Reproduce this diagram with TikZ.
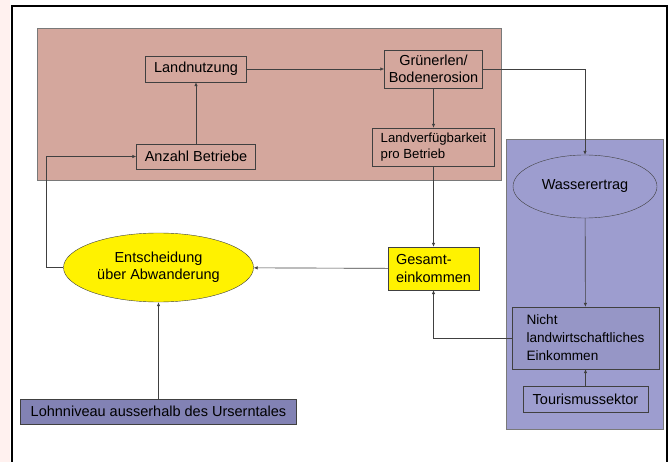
\documentclass[tikz,border=0pt]{standalone}
\usepackage{fontspec}
\setmainfont{Liberation Sans}
\usetikzlibrary{
  arrows.meta,
  shapes.geometric
}
\definecolor{landred}{HTML}{D4A79D}
\definecolor{waterblue}{HTML}{9D9DCF}
\definecolor{incomeblue}{HTML}{9696C6}
\definecolor{wageblue}{HTML}{8282B4}
\definecolor{edgegray}{HTML}{404040}
\definecolor{stripepink}{HTML}{FFF1EF}
\tikzset{
  factor/.style={
    draw=edgegray,
    inner sep=0pt,
    font=\fontsize{14.5}{17.5}\selectfont
  },
  decision/.style={
    factor,
    ellipse,
    fill=yellow
  },
  region/.style={
    draw=edgegray!70,
    line width=0.6pt
  },
  link/.style={
    draw=edgegray,
    line width=0.65pt,
    -{Latex[length=4pt,width=3.5pt]}
  }
}

\begin{document}
\begin{tikzpicture}[x=1pt,y=-1pt]
  \useasboundingbox (0,0) rectangle (671,462);
  \fill[stripepink] (0,0) rectangle (10,462);
  \draw[line width=1.4pt] (12,462) -- (12,6) -- (667,6) -- (667,462);
  % Hintergrundflaechen
  \path[region,fill=landred] (37,28) rectangle (501,180);
  \path[region,fill=waterblue] (506,139) rectangle (663,429);

  \node[factor,minimum width=101,minimum height=26] (nutzung) at (196,69) {Landnutzung};
  \node[factor,minimum width=119,minimum height=25] (betriebe) at (196,156.5) {Anzahl Betriebe};
  \node[factor,minimum width=98,minimum height=38,align=center] (erlen) at (433.5,69) {Grünerlen/\\Bodenerosion};
  \node[factor,minimum width=122,minimum height=38,align=left,font=\fontsize{13.2}{16.5}\selectfont] (landpro) at (433.5,147) {Landverfügbarkeit\\pro Betrieb};
  \node[factor,fill=yellow,minimum width=91,minimum height=43,align=left] (gesamt) at (433.5,268.5) {Gesamt-\\einkommen};
  \node[decision,minimum width=190,minimum height=69,align=center] (abwand) at (158.5,267.5) {Entscheidung\\über Abwanderung};
  \node[factor,fill=wageblue,minimum width=276,minimum height=25] (lohn) at (158.5,411.5) {Lohnniveau ausserhalb des Urserntales};
  \node[factor,ellipse,fill=waterblue,minimum width=144,minimum height=63] (wasser) at (585,186.5) {Wasserertrag};
  \node[factor,fill=incomeblue,minimum width=147,minimum height=62,align=left,font=\fontsize{13.6}{18}\selectfont] (nichtlw) at (585.5,338) {Nicht\\landwirtschaftliches\\Einkommen};
  \node[factor,fill=waterblue,minimum width=125,minimum height=26] (tourismus) at (585.5,399) {Tourismussektor};

  \draw[link] (betriebe) -- (nutzung);
  \draw[link] (nutzung) -- (erlen);
  \draw[link] (erlen) -- (landpro);
  \draw[link] (erlen.east) -| (wasser.north);
  \draw[link] (landpro) -- (gesamt);
  \draw[link] (gesamt) -- (abwand);
  \draw[link] (abwand.west) -- ++(-17,0) |- (betriebe.west);
  \draw[link] (lohn) -- (abwand);
  \draw[link] (wasser) -- (nichtlw);
  \draw[link] (nichtlw.west) -| (gesamt.south);
  \draw[link] (tourismus) -- (nichtlw);
\end{tikzpicture}
\end{document}
